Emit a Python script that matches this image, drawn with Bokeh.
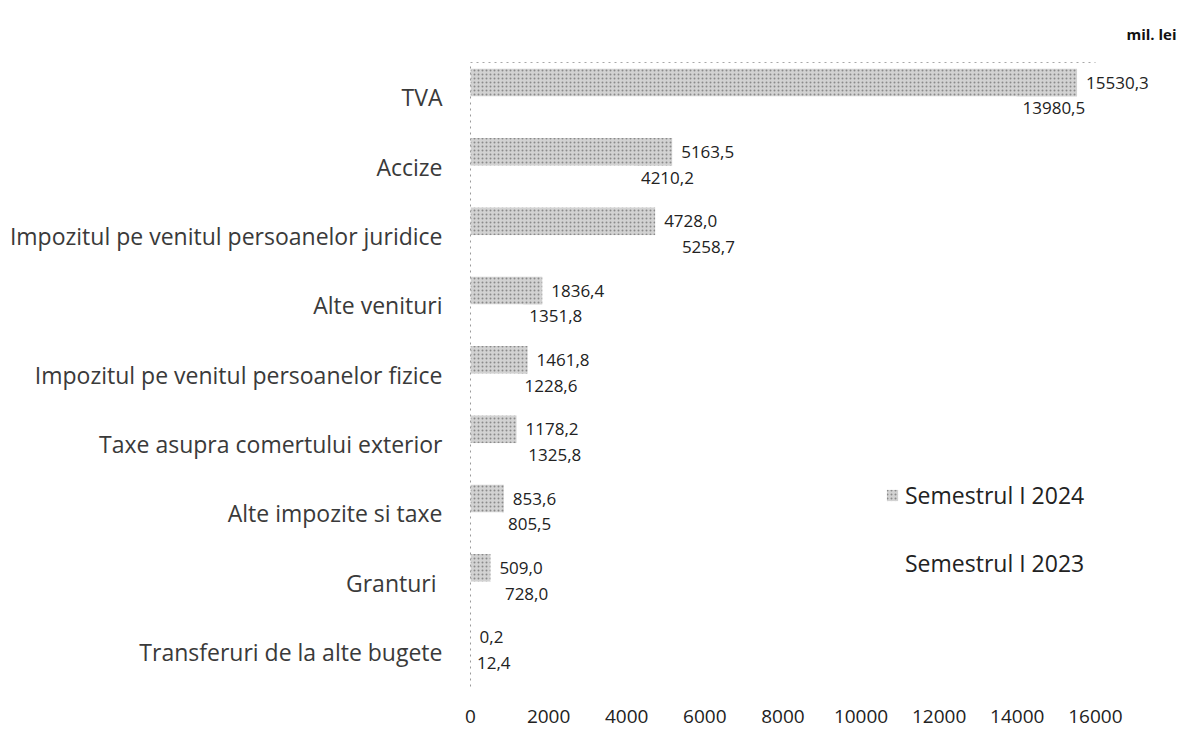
from bokeh.plotting import figure
from bokeh.models import ColumnDataSource, FactorRange, Legend, LegendItem, LinearAxis, FixedTicker
from bokeh.transform import dodge
from bokeh.core.properties import value
from bokeh.embed import file_html
from bokeh.resources import INLINE

categories = ["TVA", "Accize", "Impozitul pe venitul persoanelor juridice", "Alte venituri",
              "Impozitul pe venitul persoanelor fizice", "Taxe asupra comertului exterior",
              "Alte impozite si taxe", "Granturi ", "Transferuri de la alte bugete"]
sem_2024 = [15530.3, 5163.5, 4728.0, 1836.4, 1461.8, 1178.2, 853.6, 509.0, 0.2]
sem_2023 = [13980.5, 4210.2, 5258.7, 1351.8, 1228.6, 1325.8, 805.5, 728.0, 12.4]
x_ticks = [0, 2000, 4000, 6000, 8000, 10000, 12000, 14000, 16000]
series_names = ["Semestrul I 2024", "Semestrul I 2023"]
unit_label = "mil. lei"

FONT = "Open Sans"

def fmt(v):
    return f"{v:.1f}".replace(".", ",")

src = ColumnDataSource(dict(
    cat=categories,
    v24=sem_2024,
    v23=sem_2023,
    l24=[fmt(v) for v in sem_2024],
    l23=[fmt(v) for v in sem_2023],
))

p = figure(width=1180, height=728, output_backend="svg", toolbar_location=None,
           y_range=FactorRange(*reversed(categories)), x_range=(0, 18000),
           min_border_left=470, min_border_right=7, min_border_top=62, min_border_bottom=42,
           title=unit_label)

p.title.align = "right"
p.title.offset = -3
p.title.text_font = FONT
p.title.text_font_size = "15px"
p.title.text_font_style = "bold"
p.title.text_color = "#111"

p.outline_line_color = None
p.grid.grid_line_color = None
p.background_fill_color = "white"

r24 = p.hbar(y=dodge("cat", 0.21, range=p.y_range), right="v24", left=0, height=0.40, source=src,
             fill_color="#d2d2d2", line_color=None,
             hatch_pattern="dot", hatch_color="#8a8a8a", hatch_scale=4, hatch_weight=1.1)
r23 = p.hbar(y=dodge("cat", -0.19, range=p.y_range), right="v23", left=0, height=0.40, source=src,
             fill_color="white", line_color=None)

p.text(x="v24", y=dodge("cat", 0.21, range=p.y_range), text="l24", source=src,
       x_offset=9, text_baseline="middle", text_align="left",
       text_font=value(FONT), text_font_size="17px", text_color="#222")
p.text(x="v23", y=dodge("cat", -0.16, range=p.y_range), text="l23", source=src,
       x_offset=6, text_baseline="middle", text_align="left",
       text_font=value(FONT), text_font_size="17px", text_color="#222")

# x axis
xa = p.xaxis[0]
xa.ticker = FixedTicker(ticks=x_ticks)
xa.axis_line_color = None
xa.major_tick_line_color = None
xa.minor_tick_line_color = None
xa.major_label_text_font = FONT
xa.major_label_text_font_size = "19px"
xa.major_label_text_color = "#222"
xa.major_label_standoff = 17

# y axis
ya = p.yaxis[0]
ya.axis_line_color = "#9a9a9a"
ya.axis_line_dash = "dotted"
ya.major_tick_line_color = None
ya.minor_tick_line_color = None
ya.major_label_text_font = FONT
ya.major_label_text_font_size = "23px"
ya.major_label_text_color = "#3a3a3a"
ya.major_label_standoff = 22

# faint dotted top border (with an invisible spacer label to lift the unit title)
top = LinearAxis(ticker=FixedTicker(ticks=[]), axis_line_color="#a8a8a8", axis_line_dash="dotted",
                 axis_line_width=1,
                 major_tick_line_color=None, minor_tick_line_color=None,
                 major_label_text_font_size="0px", bounds=(0, 16000),
                 axis_label="x", axis_label_text_alpha=0, axis_label_text_font_size="10px",
                 axis_label_standoff=0)
p.add_layout(top, "above")

legend = Legend(items=[LegendItem(label=series_names[0], renderers=[r24]),
                       LegendItem(label=series_names[1], renderers=[r23])],
                location=(415, 107), border_line_color=None, background_fill_alpha=0,
                padding=0, margin=0, spacing=36, glyph_width=14, glyph_height=14,
                label_height=22, label_standoff=6,
                label_text_font=FONT, label_text_font_size="23px", label_text_color="#222")
p.add_layout(legend, "center")

open("out.html", "w").write(file_html(p, INLINE))
